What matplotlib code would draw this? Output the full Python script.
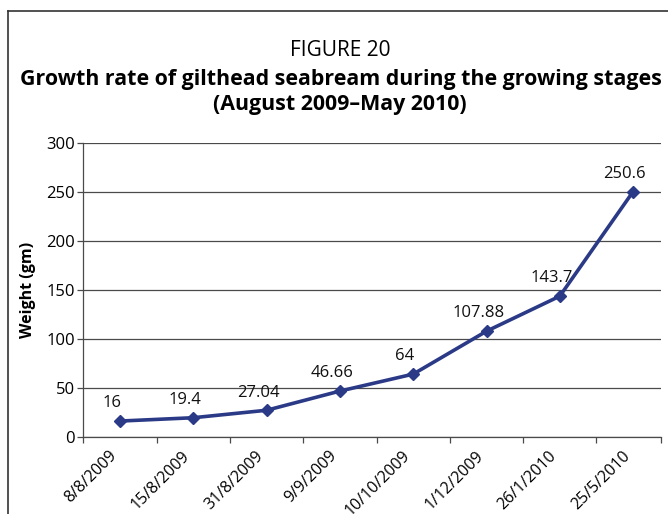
import matplotlib
matplotlib.use("Agg")
import matplotlib.pyplot as plt
from matplotlib.lines import Line2D
import numpy as np

plt.rcParams['font.family'] = ['Open Sans', 'DejaVu Sans']

dates = ["8/8/2009", "15/8/2009", "31/8/2009", "9/9/2009",
         "10/10/2009", "1/12/2009", "26/1/2010", "25/5/2010"]
weights = [16, 19.4, 27.04, 46.66, 64, 107.88, 143.7, 250.6]
value_labels = ["16", "19.4", "27.04", "46.66", "64", "107.88", "143.7", "250.6"]

line_color = "#2B3A86"
grid_color = "#4a4a4a"

fig = plt.figure(figsize=(6.68, 5.14), dpi=100)
ax = fig.add_axes([83 / 668, 1 - 436.7 / 514, (661 - 83) / 668, (436.7 - 143.3) / 514])

x = np.arange(len(dates))
ax.plot(x, weights, color=line_color, linewidth=2.6, marker="D", markersize=6.5,
        zorder=3)

# value labels sit a little left of and above each point
for xi, yi, lab in zip(x, weights, value_labels):
    ax.annotate(lab, (xi, yi), xytext=(-6, 7), textcoords="offset points",
                ha="center", va="bottom", fontsize=12, color="#111111")

ax.set_ylim(0, 300)
ax.set_yticks(np.arange(0, 301, 50))
x_right = (661 - 120) / 73.3
ax.set_xlim(-0.505, x_right)
ax.yaxis.grid(True, color=grid_color, linewidth=0.9)
ax.set_axisbelow(True)

ax.set_xticks(x)
ax.set_xticklabels(dates, rotation=45, ha="right", fontsize=11.5)
ax.tick_params(axis="x", which="major", length=0, pad=8)
ax.set_xticks(list(x - 0.5) + [x_right], minor=True)
ax.tick_params(axis="x", which="minor", length=4, width=0.9, color=grid_color)
ax.tick_params(axis="y", length=4, width=0.9, color=grid_color, labelsize=12, pad=2)

for side in ["top", "right"]:
    ax.spines[side].set_visible(False)
for side in ["left", "bottom"]:
    ax.spines[side].set_color(grid_color)
    ax.spines[side].set_linewidth(0.9)

ax.set_ylabel("Weight (gm)", fontsize=11.5, fontweight="bold", labelpad=7)

fig.text(340 / 668, 1 - 50 / 514, "FIGURE 20", ha="center", va="center", fontsize=15)
fig.text(341 / 668, 1 - 79 / 514, "Growth rate of gilthead seabream during the growing stages",
         ha="center", va="center", fontsize=15.4, fontweight="bold")
fig.text(340 / 668, 1 - 105 / 514, "(August 2009\u2013May 2010)",
         ha="center", va="center", fontsize=15.4, fontweight="bold")

# frame round the figure (left and top only, as in the scan)
fig.add_artist(Line2D([7.5 / 668, 7.5 / 668], [0, 1 - 11 / 514], transform=fig.transFigure,
                      color="#333333", linewidth=1.2))
fig.add_artist(Line2D([7.5 / 668, 1], [1 - 11 / 514, 1 - 11 / 514], transform=fig.transFigure,
                      color="#333333", linewidth=1.2))

fig.savefig("out.png", dpi=100)
